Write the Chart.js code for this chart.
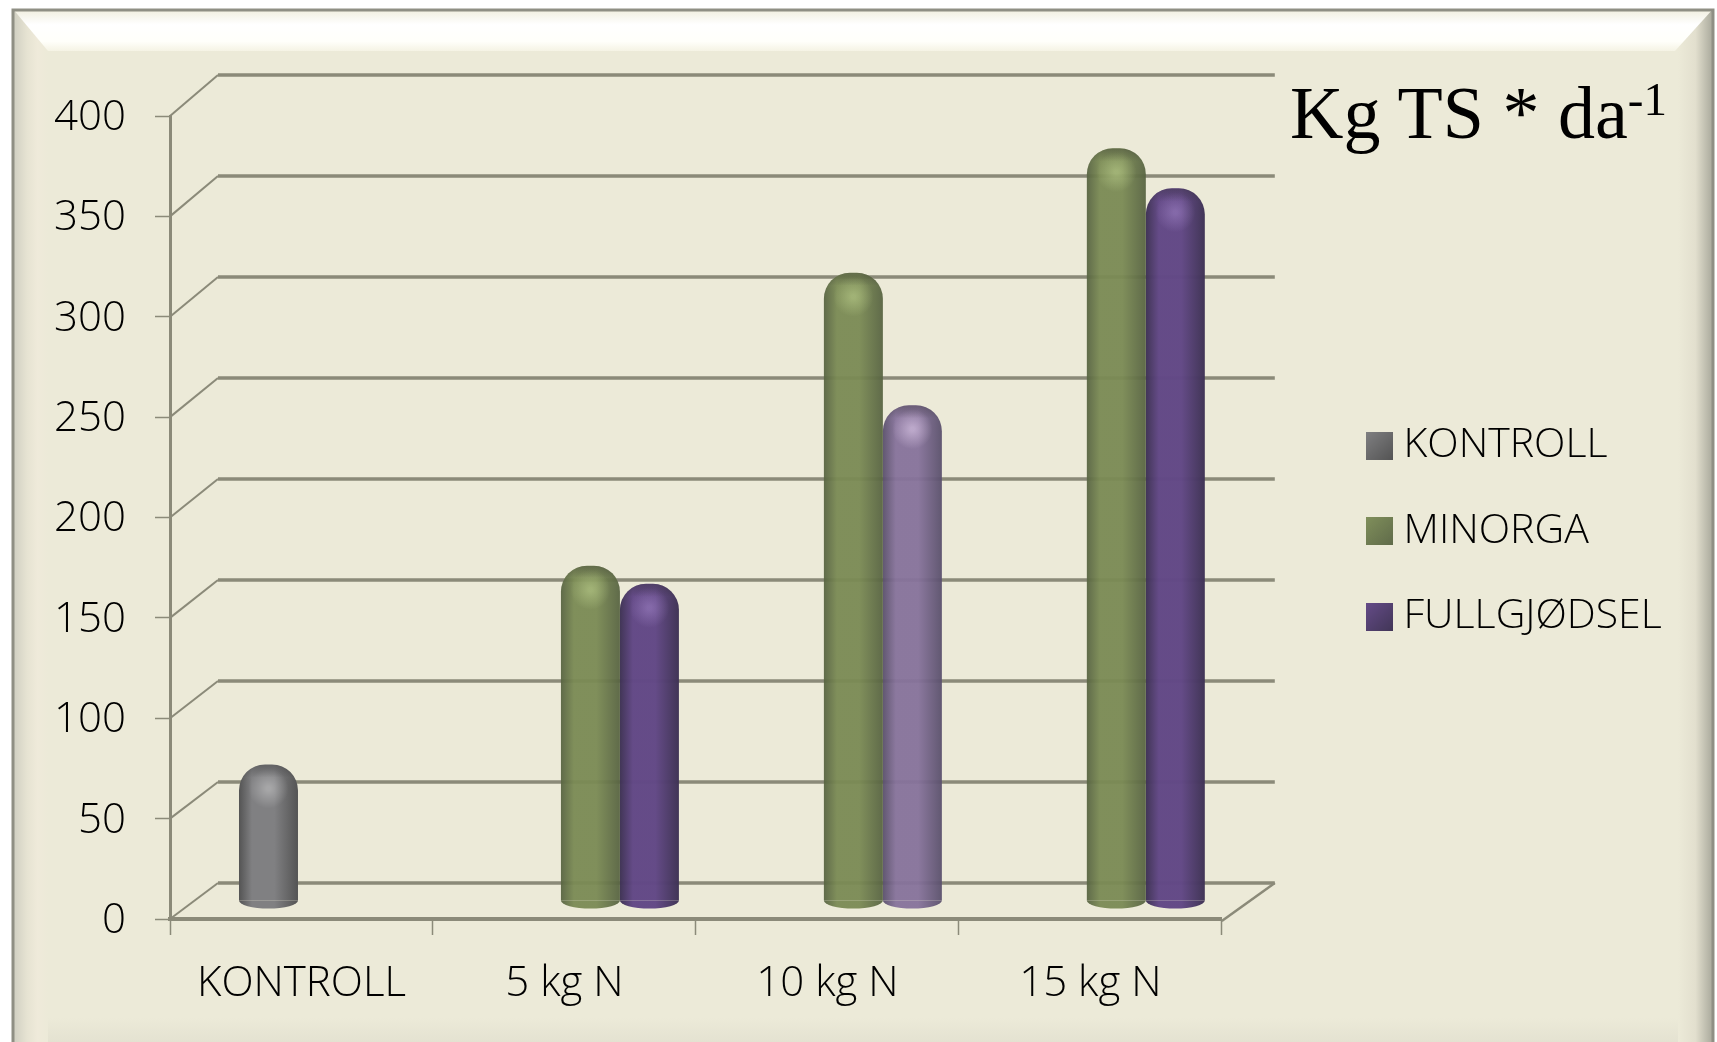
<!DOCTYPE html>
<html>
<head>
<meta charset="utf-8">
<title>Kg TS * da-1</title>
<script src="https://cdn.jsdelivr.net/npm/chart.js@4/dist/chart.umd.min.js"></script>
<style>
    html, body { margin: 0; padding: 0; background: #fff; overflow: hidden; }
    #wrap { position: relative; width: 1717px; height: 1042px; }
    #tittel {
        position: absolute; left: 1290px; top: 71px; white-space: nowrap;
        font-family: "Liberation Serif", serif; font-size: 74px; line-height: 85px; color: #000;
    }
    #tittel sup { font-size: 47px; line-height: 0; vertical-align: 23px; }
</style>
</head>
<body>
<div id="wrap">
    <canvas id="grafikk" width="1717" height="1042"></canvas>
    <div id="tittel">Kg TS * da<sup>-1</sup></div>
</div>
<script>
var kategorier = ['KONTROLL', '5 kg N', '10 kg N', '15 kg N'];
var kontroll = [68, null, null, null];
var minorga = [null, 167, 313, 375];
var fullgjodsel = [null, 158, 247, 355];

var linjeFarge = '#8b8a79';
var bakgrunn = '#ecead8';
var skrift = '"Open Sans", sans-serif';

// skygge for hver stolpe: kant, midt, lys
var toner = {
    KONTROLL: ['rgba(84,84,84,1)', 'rgba(128,128,130,1)', 'rgba(255,255,255,0.3)'],
    MINORGA: ['rgba(88,100,66,0.95)', 'rgba(122,138,84,0.95)', 'rgba(200,220,150,0.45)'],
    FULLGJODSEL: ['rgba(62,50,84,0.98)', 'rgba(98,72,134,0.98)', 'rgba(190,160,230,0.35)'],
    LYS: ['rgba(90,80,108,0.95)', 'rgba(134,114,155,0.95)', 'rgba(235,215,245,0.5)']
};

function tonerFor(ds, i) {
    if (ds.label === 'KONTROLL') return toner.KONTROLL;
    if (ds.label === 'MINORGA') return toner.MINORGA;
    return i === 2 ? toner.LYS : toner.FULLGJODSEL;
}

// liten rute til legenden, med tomrom til venstre slik at teksten kommer tett inntil
function rute(farge) {
    var cv = document.createElement('canvas');
    cv.width = 37;
    cv.height = 28;
    var c = cv.getContext('2d');
    var g = c.createLinearGradient(10, 0, 37, 28);
    g.addColorStop(0, farge[1]);
    g.addColorStop(1, farge[0]);
    c.fillStyle = g;
    c.fillRect(10, 0, 27, 28);
    return cv;
}

var ramme = {
    id: 'ramme',
    beforeDraw: function (chart) {
        var c = chart.ctx;
        var g;
        c.save();
        c.fillStyle = bakgrunn;
        c.fillRect(13, 9, 1700, 1033);

        g = c.createLinearGradient(0, 1018, 0, 1042);
        g.addColorStop(0, bakgrunn);
        g.addColorStop(1, '#e4e2d1');
        c.fillStyle = g;
        c.fillRect(13, 1018, 1700, 24);

        g = c.createLinearGradient(13, 0, 48, 0);
        g.addColorStop(0, '#cfcec1');
        g.addColorStop(0.4, '#e6e3d2');
        g.addColorStop(0.7, '#efeada');
        g.addColorStop(1, bakgrunn);
        c.fillStyle = g;
        c.fillRect(13, 9, 35, 1033);

        g = c.createLinearGradient(1678, 0, 1713, 0);
        g.addColorStop(0, bakgrunn);
        g.addColorStop(0.5, '#e2dfce');
        g.addColorStop(1, '#a8a89b');
        c.fillStyle = g;
        c.fillRect(1678, 9, 35, 1033);

        g = c.createLinearGradient(0, 10, 0, 52);
        g.addColorStop(0, '#f1efe0');
        g.addColorStop(0.35, '#ffffff');
        g.addColorStop(0.75, '#fffffa');
        g.addColorStop(1, '#f4f2e2');
        c.fillStyle = g;
        c.beginPath();
        c.moveTo(13, 9);
        c.lineTo(1713, 9);
        c.lineTo(1675, 51);
        c.lineTo(48, 51);
        c.closePath();
        c.fill();

        c.strokeStyle = '#8f8f84';
        c.lineWidth = 3;
        c.beginPath();
        c.moveTo(13, 1042);
        c.lineTo(13, 10);
        c.lineTo(1713, 10);
        c.lineTo(1713, 1042);
        c.stroke();
        c.restore();
    }
};

// bakvegg og golv, henta fra skalaene
var bakvegg = {
    id: 'bakvegg',
    beforeDatasetsDraw: function (chart) {
        var c = chart.ctx;
        var y = chart.scales.y;
        var x = chart.scales.x;
        c.save();
        c.strokeStyle = linjeFarge;
        y.ticks.forEach(function (t) {
            var py = y.getPixelForValue(t.value);
            var bak = py - 36 - 5 * t.value / 400;
            c.lineWidth = 2;
            c.beginPath();
            c.moveTo(x.left, py);
            c.lineTo(x.left + 48, bak);
            c.stroke();
            c.lineWidth = 3.5;
            c.beginPath();
            c.moveTo(x.left + 48, bak);
            c.lineTo(x.right + 53, bak);
            c.stroke();
        });
        c.lineWidth = 2.5;
        c.beginPath();
        c.moveTo(x.right, y.bottom + 2);
        c.lineTo(x.right + 53, y.bottom - 36);
        c.stroke();
        c.restore();
    }
};

// stolpene står midt i dybden, med rund sokkel og lys topp
var sylinder = {
    id: 'sylinder',
    beforeDatasetDraw: function (chart, args) {
        var c = chart.ctx;
        var ds = chart.data.datasets[args.index];
        c.save();
        c.translate(26, -18);
        args.meta.data.forEach(function (bar, i) {
            if (ds.data[i] === null) return;
            var t = tonerFor(ds, i);
            var v = bar.x - bar.width / 2;
            var g = c.createLinearGradient(v, 0, v + bar.width, 0);
            g.addColorStop(0, t[0]);
            g.addColorStop(0.22, t[1]);
            g.addColorStop(0.6, t[1]);
            g.addColorStop(1, t[0]);
            bar.options = Object.assign({}, bar.options, { backgroundColor: g });
            c.fillStyle = g;
            c.beginPath();
            c.ellipse(bar.x, bar.base, bar.width / 2, 8, 0, 0, Math.PI);
            c.fill();
        });
    },
    afterDatasetDraw: function (chart, args) {
        var c = chart.ctx;
        var ds = chart.data.datasets[args.index];
        args.meta.data.forEach(function (bar, i) {
            if (ds.data[i] === null) return;
            var t = tonerFor(ds, i);
            var g = c.createRadialGradient(bar.x, bar.y + 24, 2, bar.x, bar.y + 24, 20);
            g.addColorStop(0, t[2]);
            g.addColorStop(1, t[2].replace(/[\d.]+\)$/, '0)'));
            c.fillStyle = g;
            c.fillRect(bar.x - 22, bar.y + 2, 44, 44);

            // mørkere kant øverst på kuppelen
            c.save();
            c.beginPath();
            c.roundRect(bar.x - bar.width / 2, bar.y, bar.width, 30, [26, 26, 0, 0]);
            c.clip();
            g = c.createLinearGradient(0, bar.y, 0, bar.y + 13);
            g.addColorStop(0, 'rgba(40,40,40,0.35)');
            g.addColorStop(1, 'rgba(40,40,40,0)');
            c.fillStyle = g;
            c.fillRect(bar.x - bar.width / 2, bar.y, bar.width, 13);
            c.restore();
        });
        c.restore();
    }
};

// legenden flyttes til plassen den har i originalen
var legendePlass = {
    id: 'legendePlass',
    afterLayout: function (chart) {
        var l = chart.legend;
        var b = l.width;
        l.left = 1366 - l.options.labels.padding;
        l.right = l.left + b;
        l.top = 68;
        l.bottom = l.top + l.height;
    }
};

new Chart(document.getElementById('grafikk'), {
    type: 'bar',
    data: {
        labels: kategorier,
        datasets: [
            { label: 'KONTROLL', data: kontroll, backgroundColor: '#6d6d70' },
            { label: 'MINORGA', data: minorga, backgroundColor: '#6f8251' },
            { label: 'FULLGJØDSEL', data: fullgjodsel, backgroundColor: '#553f7e' }
        ]
    },
    options: {
        responsive: false,
        animation: false,
        devicePixelRatio: 1,
        layout: { padding: { top: 116, right: 145, left: 0, bottom: 0 } },
        datasets: {
            bar: {
                categoryPercentage: 0.673,
                barPercentage: 1,
                borderRadius: { topLeft: 26, topRight: 26, bottomLeft: 0, bottomRight: 0 },
                borderSkipped: false,
                clip: false
            }
        },
        scales: {
            x: {
                border: { color: linjeFarge, width: 4 },
                grid: { drawOnChartArea: false, color: linjeFarge, tickLength: 16, tickWidth: 1.5 },
                ticks: {
                    color: '#000', padding: 24, maxRotation: 0,
                    font: { family: skrift, size: 42, weight: '300' }
                },
                afterFit: function (s) { s.height = 1042 - 919; }
            },
            y: {
                min: 0,
                max: 400,
                border: { color: linjeFarge, width: 3 },
                grid: { drawOnChartArea: false, color: linjeFarge, tickLength: 15, tickWidth: 1.5 },
                ticks: {
                    stepSize: 50, color: '#000', padding: 29, labelOffset: 2,
                    font: { family: skrift, size: 42, weight: '300' }
                },
                afterFit: function (s) { s.width = 170; }
            }
        },
        plugins: {
            title: { display: false },
            tooltip: { enabled: false },
            legend: {
                position: 'right',
                labels: {
                    color: '#000',
                    usePointStyle: true,
                    pointStyleWidth: 17,
                    boxHeight: 28,
                    padding: 44.5,
                    font: { family: skrift, size: 41, weight: '300' },
                    generateLabels: function (chart) {
                        return chart.data.datasets.map(function (ds, i) {
                            var t = i === 0 ? toner.KONTROLL : (i === 1 ? toner.MINORGA : toner.FULLGJODSEL);
                            return {
                                text: ds.label, pointStyle: rute(t), lineWidth: 0,
                                fontColor: '#000', datasetIndex: i
                            };
                        });
                    }
                }
            }
        }
    },
    plugins: [ramme, bakvegg, sylinder, legendePlass]
});
</script>
</body>
</html>
